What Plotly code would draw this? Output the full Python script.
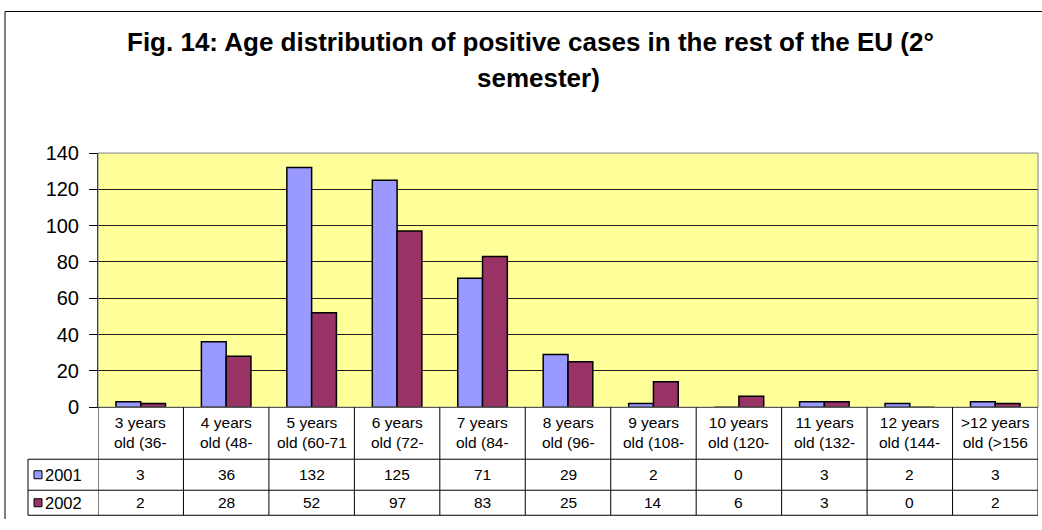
import plotly.graph_objects as go

categories = [
    "3 years<br>old (36-", "4 years<br>old (48-", "5 years<br>old (60-71",
    "6 years<br>old (72-", "7 years<br>old (84-", "8 years<br>old (96-",
    "9 years<br>old (108-", "10 years<br>old (120-", "11 years<br>old (132-",
    "12 years<br>old (144-", ">12 years<br>old (>156",
]
cases_2001 = [3, 36, 132, 125, 71, 29, 2, 0, 3, 2, 3]
cases_2002 = [2, 28, 52, 97, 83, 25, 14, 6, 3, 0, 2]
series_names = ["2001", "2002"]
y_ticks = [0, 20, 40, 60, 80, 100, 120, 140]

W, H = 1042, 530
COLOR_2001 = "#9999FF"
COLOR_2002 = "#993366"
FONT = "Liberation Sans, Arial, sans-serif"

# the photographed page comes back slightly squeezed vertically,
# so reference pixel rows are mapped back onto figure rows
IMG_OFF, IMG_SCALE = 11.0, 0.958


def px_x(x):
    return x / W


def px_y(y):
    fy = (y - IMG_OFF) / IMG_SCALE
    return min(max((H - fy) / H, 0.0), 0.999)


# pixel layout (reference picture) of the plot area and the table beneath it
PLOT_L, PLOT_R, PLOT_T, PLOT_B = 98, 1038, 153, 407
ROW1, ROW2, TABLE_B = 459, 490, 515
LEGEND_L = 28

idx = list(range(len(categories)))

fig = go.Figure()
fig.add_trace(go.Bar(
    x=idx, y=cases_2001, name=series_names[0],
    marker=dict(color=COLOR_2001, line=dict(color="black", width=1.5)),
))
fig.add_trace(go.Bar(
    x=idx, y=cases_2002, name=series_names[1],
    marker=dict(color=COLOR_2002, line=dict(color="black", width=1.5)),
))

shapes = []
annotations = []

# outer chart frame: only the left and top edges are inside the picture
shapes.append(dict(type="line", xref="paper", yref="paper",
                   x0=px_x(5), x1=px_x(5), y0=0, y1=px_y(10),
                   line=dict(color="black", width=1)))
shapes.append(dict(type="line", xref="paper", yref="paper",
                   x0=px_x(5), x1=1, y0=px_y(10), y1=px_y(10),
                   line=dict(color="black", width=1)))
# plot area border
shapes.append(dict(type="rect", xref="paper", yref="paper",
                   x0=px_x(PLOT_L), x1=px_x(PLOT_R), y0=px_y(PLOT_B), y1=px_y(PLOT_T),
                   line=dict(color="#808080", width=1), layer="above"))

# table grid: vertical lines at category boundaries
for i in range(len(categories) + 1):
    shapes.append(dict(type="line", xref="x", yref="paper",
                       x0=i - 0.5, x1=i - 0.5, y0=px_y(PLOT_B), y1=px_y(TABLE_B),
                       line=dict(color="black", width=1)))
# legend column left edge
shapes.append(dict(type="line", xref="paper", yref="paper",
                   x0=px_x(LEGEND_L), x1=px_x(LEGEND_L), y0=px_y(ROW1), y1=px_y(TABLE_B),
                   line=dict(color="black", width=1)))
# horizontal table lines
for yy in (ROW1, ROW2, TABLE_B):
    shapes.append(dict(type="line", xref="paper", yref="paper",
                       x0=px_x(LEGEND_L), x1=px_x(PLOT_R), y0=px_y(yy), y1=px_y(yy),
                       line=dict(color="black", width=1)))

# category labels
for i, cat in enumerate(categories):
    annotations.append(dict(x=i, y=px_y((PLOT_B + ROW1) / 2 - 1), xref="x", yref="paper",
                            text=cat, showarrow=False, align="center",
                            xanchor="center", yanchor="middle",
                            font=dict(family=FONT, size=15.5, color="black")))

# value rows + legend keys
rows = [(cases_2001, COLOR_2001, (ROW1 + ROW2) / 2),
        (cases_2002, COLOR_2002, (ROW2 + TABLE_B) / 2)]
for name, (vals, col, yc) in zip(series_names, rows):
    for i, v in enumerate(vals):
        annotations.append(dict(x=i, y=px_y(yc), xref="x", yref="paper",
                                text=str(v), showarrow=False,
                                xanchor="center", yanchor="middle",
                                font=dict(family=FONT, size=15.5, color="black")))
    shapes.append(dict(type="rect", xref="paper", yref="paper",
                       x0=px_x(34), x1=px_x(42), y0=px_y(yc + 4), y1=px_y(yc - 4),
                       fillcolor=col, line=dict(color="black", width=1)))
    annotations.append(dict(x=px_x(43), y=px_y(yc), xref="paper", yref="paper",
                            text=name, showarrow=False,
                            xanchor="left", yanchor="middle",
                            font=dict(family=FONT, size=16.5, color="black")))

# title (Excel wraps it over two widely spaced lines)
annotations.append(dict(x=px_x(530), y=px_y(42), xref="paper", yref="paper",
                        text="<b>Fig. 14: Age distribution of positive cases in the rest of the EU (2°</b>",
                        showarrow=False, xanchor="center", yanchor="middle",
                        font=dict(family=FONT, size=26, color="black")))
annotations.append(dict(x=px_x(538), y=px_y(78), xref="paper", yref="paper",
                        text="<b>semester)</b>",
                        showarrow=False, xanchor="center", yanchor="middle",
                        font=dict(family=FONT, size=26, color="black")))

fig.update_layout(
    width=W, height=H,
    margin=dict(l=0, r=0, t=0, b=0),
    paper_bgcolor="white",
    plot_bgcolor="#FFFF99",
    barmode="group",
    bargap=0.42,
    bargroupgap=0,
    showlegend=False,
    shapes=shapes,
    annotations=annotations,
    font=dict(family=FONT, color="black"),
    xaxis=dict(
        domain=[px_x(PLOT_L), px_x(PLOT_R)],
        range=[-0.5, len(categories) - 0.5],
        showticklabels=False, showgrid=False, zeroline=False,
        showline=True, linecolor="black", linewidth=1,
        fixedrange=True,
    ),
    yaxis=dict(
        domain=[px_y(PLOT_B), px_y(PLOT_T)],
        range=[0, 140],
        tickvals=y_ticks,
        ticks="outside", ticklen=8, tickcolor="black",
        ticklabelstandoff=6,
        tickfont=dict(family=FONT, size=20, color="black"),
        showgrid=True, gridcolor="#202020", gridwidth=1,
        zeroline=False,
        showline=True, linecolor="black", linewidth=1,
        fixedrange=True,
    ),
)

fig.write_html(
    "out.html",
    config={"displayModeBar": False},
    post_script="document.body.style.margin='0';document.body.style.overflow='hidden';",
)
